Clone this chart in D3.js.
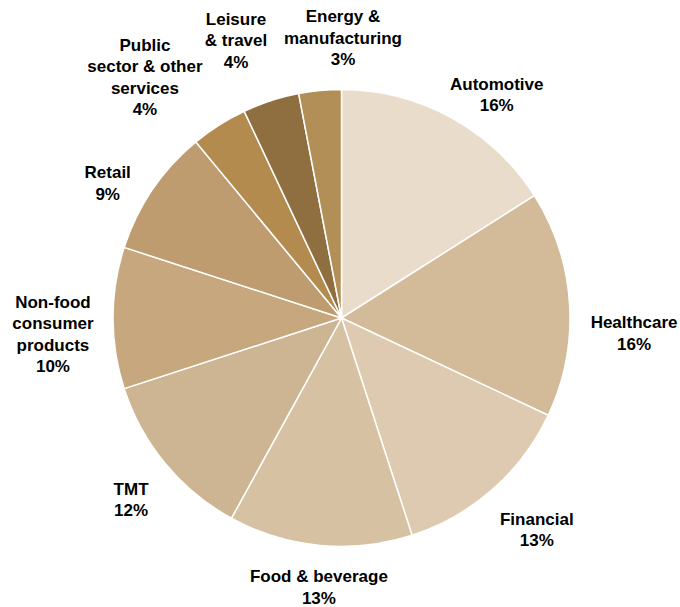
<!DOCTYPE html>
<html>
<head>
<style>
    body { margin: 0; background: #fff; }
    svg text { font-family: Arial, "Liberation Sans", sans-serif; font-weight: bold; fill: #000; }
</style>
<script src="https://cdn.jsdelivr.net/npm/d3@7"></script>
</head>
<body>
<svg id="chart"></svg>
<script>
// Data (share of deals, %)
let categories = ["Automotive", "Healthcare", "Financial", "Food & beverage", "TMT",
    "Non-food\nconsumer\nproducts", "Retail", "Public\nsector & other\nservices",
    "Leisure\n& travel", "Energy &\nmanufacturing"];
let values = [16, 16, 13, 13, 12, 10, 9, 4, 4, 3];
let colors = ["#e9dcca", "#d3ba98", "#ddcab0", "#d6c2a3", "#cdb492",
    "#c6a77e", "#bf9c70", "#b38b4e", "#8f6f40", "#b38f58"];

let width = 680, height = 607;
let cx = 341.5, cy = 318, radius = 228.5;
let lineHeight = 21.5;

let svg = d3.select("#chart").attr("width", width).attr("height", height);
let g = svg.append("g").attr("transform", `translate(${cx},${cy})`);

let data = categories.map((c, i) => ({ name: c, value: values[i], color: colors[i] }));

let pie = d3.pie().sort(null).value(d => d.value);
let arc = d3.arc().innerRadius(0).outerRadius(radius);
let arcs = pie(data);

g.selectAll("path").data(arcs).enter().append("path")
    .attr("d", arc)
    .attr("fill", d => d.data.color)
    .attr("stroke", "#fff")
    .attr("stroke-width", 1.5);

// small angle / distance nudges so labels sit like the original
let nudge = [[6, 272], [6.5, 293], [-1.3, 288], [-0.6, 270], [-1.2, 278],
    [-3.2, 289], [-4.2, 270], [-6.8, 311], [-2.8, 297], [5.7, 280]];

let labels = g.selectAll(".label").data(arcs).enter().append("text")
    .attr("class", "label")
    .attr("text-anchor", "middle")
    .style("font-size", "17px");

labels.each(function(d, i) {
    let lines = d.data.name.split("\n").concat([d.data.value + "%"]);
    let mid = (d.startAngle + d.endAngle) / 2 + nudge[i][0] * Math.PI / 180;
    let x = Math.sin(mid) * nudge[i][1];
    let y = -Math.cos(mid) * nudge[i][1];
    let top = y - (lines.length - 1) * lineHeight / 2;
    let t = d3.select(this);
    lines.forEach((l, k) => {
        t.append("tspan")
            .attr("x", x)
            .attr("y", top + k * lineHeight)
            .attr("dy", "0.35em")
            .text(l);
    });
});
</script>
</body>
</html>
